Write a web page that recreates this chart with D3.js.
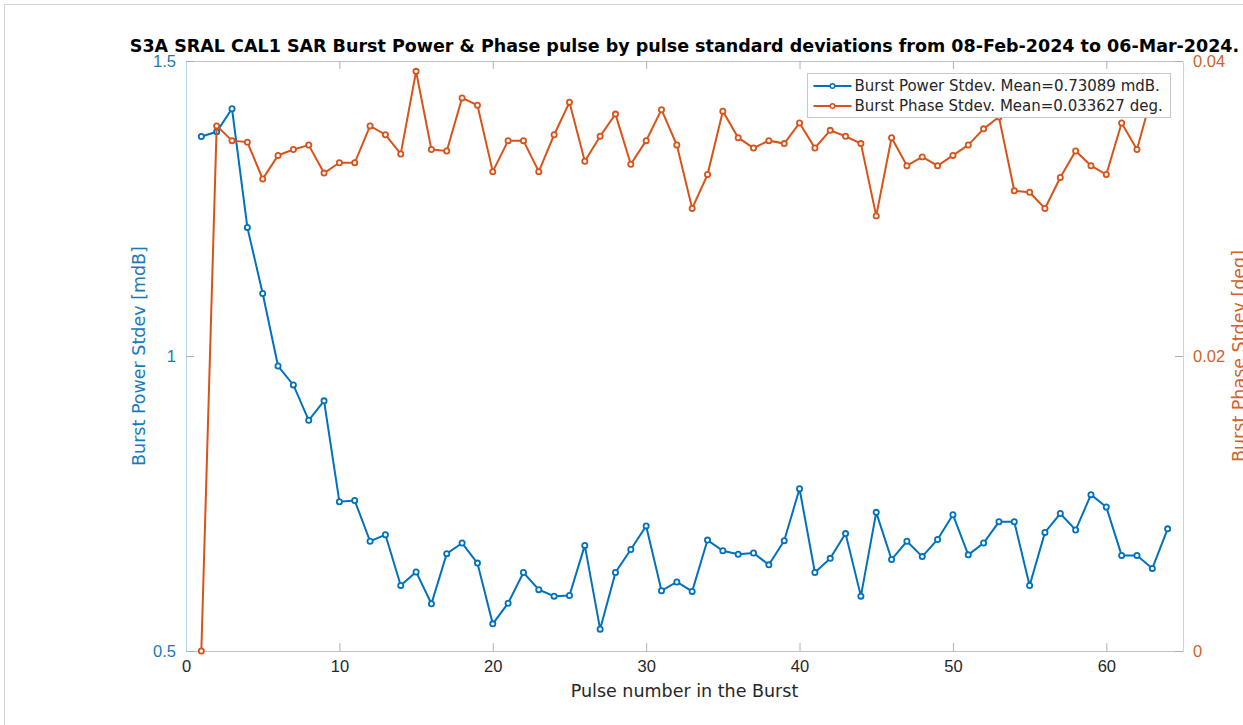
<!DOCTYPE html>
<html>
<head>
    <meta charset="utf-8" />
    <title>S3A SRAL CAL1 SAR Burst</title>
    <script src="https://d3js.org/d3.v7.min.js"></script>
    <style>
        body { margin: 0; background: #fff; }
        svg { display: block; font-family: "DejaVu Sans", sans-serif; }
    </style>
</head>
<body>
    <svg width="1243" height="725"></svg>
    <script>
        // pulse index in the burst
        var pulse = [1, 2, 3, 4, 5, 6, 7, 8, 9, 10, 11, 12, 13, 14, 15, 16,
            17, 18, 19, 20, 21, 22, 23, 24, 25, 26, 27, 28, 29, 30, 31, 32,
            33, 34, 35, 36, 37, 38, 39, 40, 41, 42, 43, 44, 45, 46, 47, 48,
            49, 50, 51, 52, 53, 54, 55, 56, 57, 58, 59, 60, 61, 62, 63, 64];

        // burst power stdev [mdB]
        var power = [1.372, 1.380, 1.419, 1.218, 1.106, 0.983, 0.951, 0.891, 0.924, 0.753,
            0.755, 0.686, 0.697, 0.611, 0.634, 0.580, 0.665, 0.683, 0.649, 0.546,
            0.581, 0.633, 0.604, 0.593, 0.594, 0.679, 0.537, 0.633, 0.672, 0.712,
            0.602, 0.617, 0.601, 0.688, 0.670, 0.664, 0.666, 0.646, 0.687, 0.775,
            0.633, 0.657, 0.699, 0.593, 0.735, 0.655, 0.686, 0.660, 0.689, 0.731,
            0.663, 0.683, 0.719, 0.719, 0.611, 0.701, 0.733, 0.705, 0.765, 0.744,
            0.662, 0.662, 0.640, 0.707];

        // burst phase stdev [deg]
        var phase = [0.0000, 0.0356, 0.0346, 0.0345, 0.0320, 0.0336, 0.0340, 0.0343, 0.0324, 0.0331,
            0.0331, 0.0356, 0.0350, 0.0337, 0.0393, 0.0340, 0.0339, 0.0375, 0.0370, 0.0325,
            0.0346, 0.0346, 0.0325, 0.0350, 0.0372, 0.0332, 0.0349, 0.0364, 0.0330, 0.0346,
            0.0367, 0.0343, 0.0300, 0.0323, 0.0366, 0.0348, 0.0341, 0.0346, 0.0344, 0.0358,
            0.0341, 0.0353, 0.0349, 0.0344, 0.0295, 0.0348, 0.0329, 0.0335, 0.0329, 0.0336,
            0.0343, 0.0354, 0.0362, 0.0312, 0.0311, 0.0300, 0.0321, 0.0339, 0.0329, 0.0323,
            0.0358, 0.0340, 0.0378, 0.0365];

        var xTicks = [0, 10, 20, 30, 40, 50, 60];
        var leftTicks = [0.5, 1, 1.5];
        var rightTicks = [0, 0.02, 0.04];

        var legendLabels = ["Burst Power Stdev. Mean=0.73089 mdB.",
            "Burst Phase Stdev. Mean=0.033627 deg."];

        var blue = "#0072bd", orange = "#d95319", textCol = "#262626";

        var svg = d3.select("svg");
        var pL = 186, pR = 1183, pT = 61, pB = 651;

        var x = d3.scaleLinear().domain([0, 65]).range([pL, pR]);
        var yL = d3.scaleLinear().domain([0.5, 1.5]).range([pB, pT]);
        var yR = d3.scaleLinear().domain([0, 0.04]).range([pB, pT]);

        // frame lines of the screenshot
        svg.append("line").attr("x1", 4).attr("x2", 1243).attr("y1", 4.5).attr("y2", 4.5)
            .attr("stroke", "#d4d4d4");
        svg.append("line").attr("x1", 4.5).attr("x2", 4.5).attr("y1", 4).attr("y2", 725)
            .attr("stroke", "#d4d4d4");

        // box
        svg.append("line").attr("x1", pL).attr("x2", pR).attr("y1", pT + 0.5).attr("y2", pT + 0.5)
            .attr("stroke", "#c2c2c2");
        svg.append("line").attr("x1", pL).attr("x2", pR).attr("y1", pB + 0.5).attr("y2", pB + 0.5)
            .attr("stroke", "#c2c2c2");

        // x axis bottom + top ticks
        var xAxis = svg.append("g").attr("transform", "translate(0," + pB + ")")
            .call(d3.axisBottom(x).tickValues(xTicks).tickSizeInner(-8).tickSizeOuter(0).tickPadding(9));
        xAxis.select(".domain").remove();
        xAxis.selectAll("line").attr("stroke", "#b0b0b0");
        xAxis.selectAll("text").attr("fill", textCol).style("font-size", "16.5px");

        var xTop = svg.append("g").attr("transform", "translate(0," + pT + ")")
            .call(d3.axisTop(x).tickValues(xTicks).tickSizeInner(-8).tickSizeOuter(0).tickFormat(""));
        xTop.select(".domain").remove();
        xTop.selectAll("line").attr("stroke", "#b0b0b0");

        // left axis
        var yAxisL = svg.append("g").attr("transform", "translate(" + pL + ",0)")
            .call(d3.axisLeft(yL).tickValues(leftTicks).tickFormat(d3.format("")).tickSizeInner(-8).tickSizeOuter(0).tickPadding(10));
        yAxisL.select(".domain").attr("stroke", "#b9d5ea");
        yAxisL.selectAll("line").attr("stroke", "#8fb8d6");
        yAxisL.selectAll("text").attr("fill", "#1a7ab8").style("font-size", "16.5px");

        // right axis
        var yAxisR = svg.append("g").attr("transform", "translate(" + pR + ",0)")
            .call(d3.axisRight(yR).tickValues(rightTicks).tickFormat(d3.format("")).tickSizeInner(-8).tickSizeOuter(0).tickPadding(10));
        yAxisR.select(".domain").attr("stroke", "#d9cfc6");
        yAxisR.selectAll("line").attr("stroke", "#b8aca2");
        yAxisR.selectAll("text").attr("fill", "#d35f2a").style("font-size", "16.5px");

        // axis labels
        svg.append("text").attr("x", (pL + pR) / 2).attr("y", 697)
            .attr("text-anchor", "middle").attr("fill", textCol).style("font-size", "17.5px")
            .text("Pulse number in the Burst");
        svg.append("text").attr("transform", "translate(145," + (pT + pB) / 2 + ") rotate(-90)")
            .attr("text-anchor", "middle").attr("fill", "#1a7ab8").style("font-size", "17.5px")
            .text("Burst Power Stdev [mdB]");
        svg.append("text").attr("transform", "translate(1245," + (pT + pB) / 2 + ") rotate(-90)")
            .attr("text-anchor", "middle").attr("fill", "#d35f2a").style("font-size", "17.5px")
            .text("Burst Phase Stdev [deg]");

        // title
        svg.append("text").attr("x", (pL + pR) / 2).attr("y", 52)
            .attr("text-anchor", "middle").attr("fill", "#000")
            .style("font-size", "17.5px").style("font-weight", "bold")
            .text("S3A SRAL CAL1 SAR Burst Power & Phase pulse by pulse standard deviations from 08-Feb-2024 to 06-Mar-2024.");

        // series
        function drawSeries(values, y, color) {
            var pts = pulse.map(function (p, i) { return [p, values[i]]; });
            var line = d3.line().x(function (d) { return x(d[0]); }).y(function (d) { return y(d[1]); });
            svg.append("path").datum(pts).attr("d", line)
                .attr("fill", "none").attr("stroke", color).attr("stroke-width", 2);
            svg.append("g").selectAll("circle").data(pts).enter().append("circle")
                .attr("cx", function (d) { return x(d[0]); })
                .attr("cy", function (d) { return y(d[1]); })
                .attr("r", 2.6)
                .attr("fill", "#fff").attr("stroke", color).attr("stroke-width", 1.8);
        }
        drawSeries(power, yL, blue);
        drawSeries(phase, yR, orange);

        // legend
        var lg = svg.append("g").attr("transform", "translate(807.5,73.5)");
        lg.append("rect").attr("width", 363).attr("height", 44)
            .attr("fill", "#fff").attr("stroke", "#c8c8c8");
        [blue, orange].forEach(function (c, i) {
            var yy = 12.5 + i * 20;
            lg.append("line").attr("x1", 6).attr("x2", 44).attr("y1", yy).attr("y2", yy)
                .attr("stroke", c).attr("stroke-width", 2);
            lg.append("circle").attr("cx", 25).attr("cy", yy).attr("r", 2.3)
                .attr("fill", "#fff").attr("stroke", c).attr("stroke-width", 1.5);
            lg.append("text").attr("x", 47).attr("y", yy).attr("dy", "0.35em")
                .attr("fill", textCol).style("font-size", "15px")
                .text(legendLabels[i]);
        });
    </script>
</body>
</html>
